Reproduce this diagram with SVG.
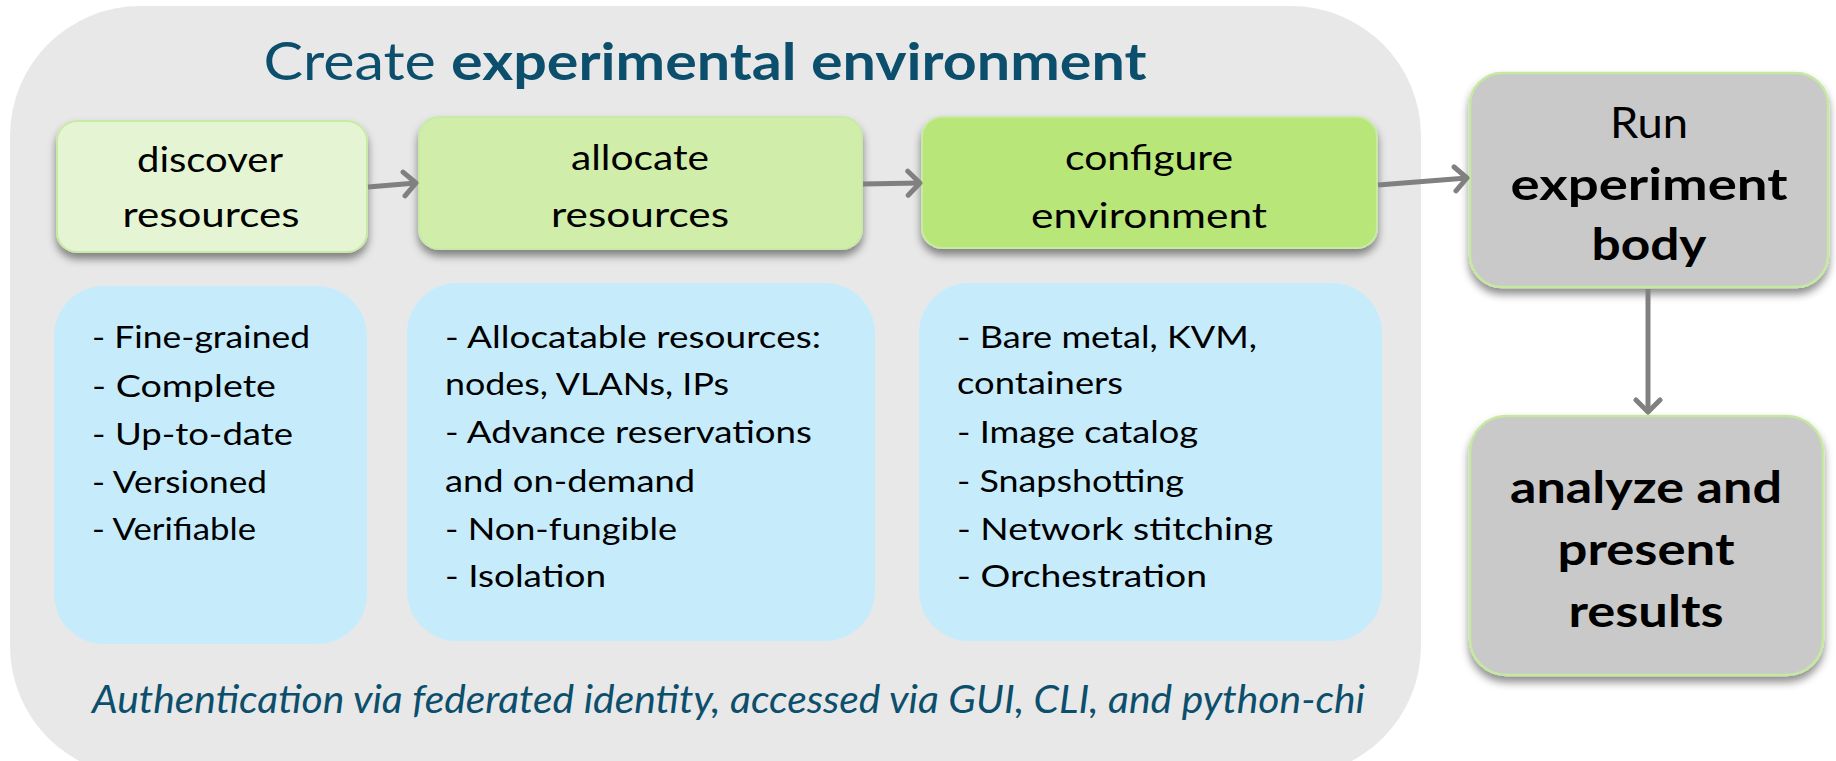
<svg xmlns="http://www.w3.org/2000/svg" width="1836" height="761" viewBox="0 0 1836 761">
<style>
.t{font-family:Lato,"Open Sans","Liberation Sans",sans-serif;fill:#000}
.node{font-size:35px;text-anchor:middle}
.list{font-size:31px}
.big{font-size:43px;text-anchor:middle}
.b{font-weight:700}
.title{font-size:52px;fill:#0c4f6d;text-anchor:middle}
.foot{font-size:38px;fill:#0c4f6d;font-style:italic}
.green{stroke:#c9eaa6;stroke-width:2}
.blue{fill:#c6ecfc}
.run{fill:#c9c9c9;stroke:#c6e9a2;stroke-width:2.5}
.conn{stroke:#808080;stroke-width:5;fill:none}
</style>
<defs>
<filter id="sh" x="-10%" y="-10%" width="120%" height="130%">
<feDropShadow dx="0" dy="6" stdDeviation="4" flood-color="#000" flood-opacity="0.45"/>
</filter>
<marker id="ah" markerUnits="userSpaceOnUse" viewBox="0 0 18 30" refX="15" refY="15" markerWidth="18" markerHeight="30" orient="auto">
<path d="M3,3 L15,15 L3,27" fill="none" stroke="#808080" stroke-width="5" stroke-linecap="round" stroke-linejoin="round"/>
</marker>
</defs>

<g id="container">
<rect x="10" y="6" width="1411" height="770" rx="130" ry="130" fill="#e8e8e8"/>
<text class="t title" x="705" y="80" textLength="883" lengthAdjust="spacingAndGlyphs">Create <tspan class="b">experimental environment</tspan></text>
<text class="t foot" x="92" y="713" textLength="1273" lengthAdjust="spacingAndGlyphs">Authentication via federated identity,  accessed via GUI, CLI, and python-chi</text>
</g>

<g id="discover">
<rect class="green" x="57" y="121" width="310" height="131" rx="20" fill="#e5f5d3" filter="url(#sh)"/>
<text class="t node" x="210" y="172" textLength="146" lengthAdjust="spacingAndGlyphs">discover</text>
<text class="t node" x="211" y="227" textLength="177" lengthAdjust="spacingAndGlyphs">resources</text>
</g>

<g id="allocate">
<rect class="green" x="419" y="117" width="443" height="132" rx="20" fill="#d0eea9" filter="url(#sh)"/>
<text class="t node" x="640" y="170" textLength="138" lengthAdjust="spacingAndGlyphs">allocate</text>
<text class="t node" x="640" y="227" textLength="178" lengthAdjust="spacingAndGlyphs">resources</text>
</g>

<g id="configure">
<rect class="green" x="922" y="117" width="455" height="131" rx="20" fill="#b8e679" filter="url(#sh)"/>
<text class="t node" x="1149" y="170" textLength="168" lengthAdjust="spacingAndGlyphs">configure</text>
<text class="t node" x="1149" y="228" textLength="236" lengthAdjust="spacingAndGlyphs">environment</text>
</g>

<g id="run">
<rect class="run" x="1470" y="73" width="358" height="214" rx="32" filter="url(#sh)"/>
<text class="t big" x="1649" y="138" textLength="78" lengthAdjust="spacingAndGlyphs">Run</text>
<text class="t big b" x="1649" y="200" textLength="277" lengthAdjust="spacingAndGlyphs">experiment</text>
<text class="t big b" x="1649" y="260" textLength="115" lengthAdjust="spacingAndGlyphs">body</text>
</g>

<g id="analyze">
<rect class="run" x="1470" y="416" width="353" height="259" rx="36" filter="url(#sh)"/>
<text class="t big b" x="1646" y="503" textLength="272" lengthAdjust="spacingAndGlyphs">analyze and</text>
<text class="t big b" x="1646" y="565" textLength="177" lengthAdjust="spacingAndGlyphs">present</text>
<text class="t big b" x="1646" y="627" textLength="155" lengthAdjust="spacingAndGlyphs">results</text>
</g>

<g id="discover-details">
<rect class="blue" x="54" y="286" width="313" height="358" rx="50"/>
<text class="t list" x="92" y="348" textLength="218" lengthAdjust="spacingAndGlyphs">- Fine-grained</text>
<text class="t list" x="92" y="397" textLength="184" lengthAdjust="spacingAndGlyphs">- Complete</text>
<text class="t list" x="92" y="445" textLength="201" lengthAdjust="spacingAndGlyphs">- Up-to-date</text>
<text class="t list" x="92" y="493" textLength="175" lengthAdjust="spacingAndGlyphs">- Versioned</text>
<text class="t list" x="92" y="540" textLength="164" lengthAdjust="spacingAndGlyphs">- Verifiable</text>
</g>

<g id="allocate-details">
<rect class="blue" x="407" y="283" width="468" height="358" rx="50"/>
<text class="t list" x="445" y="348" textLength="376" lengthAdjust="spacingAndGlyphs">- Allocatable resources:</text>
<text class="t list" x="445" y="395" textLength="284" lengthAdjust="spacingAndGlyphs">nodes, VLANs, IPs</text>
<text class="t list" x="445" y="443" textLength="367" lengthAdjust="spacingAndGlyphs">- Advance reservations</text>
<text class="t list" x="445" y="492" textLength="250" lengthAdjust="spacingAndGlyphs">and on-demand</text>
<text class="t list" x="445" y="540" textLength="232" lengthAdjust="spacingAndGlyphs">- Non-fungible</text>
<text class="t list" x="445" y="587" textLength="161" lengthAdjust="spacingAndGlyphs">- Isolation</text>
</g>

<g id="configure-details">
<rect class="blue" x="919" y="283" width="463" height="358" rx="50"/>
<text class="t list" x="957" y="348" textLength="300" lengthAdjust="spacingAndGlyphs">- Bare metal, KVM,</text>
<text class="t list" x="957" y="394" textLength="166" lengthAdjust="spacingAndGlyphs">containers</text>
<text class="t list" x="957" y="443" textLength="241" lengthAdjust="spacingAndGlyphs">- Image catalog</text>
<text class="t list" x="957" y="492" textLength="227" lengthAdjust="spacingAndGlyphs">- Snapshotting</text>
<text class="t list" x="957" y="540" textLength="316" lengthAdjust="spacingAndGlyphs">- Network stitching</text>
<text class="t list" x="957" y="587" textLength="250" lengthAdjust="spacingAndGlyphs">- Orchestration</text>
</g>

<g id="connectors">
<line class="conn" x1="368" y1="187" x2="416" y2="183" marker-end="url(#ah)"/>
<line class="conn" x1="863" y1="184" x2="920" y2="183" marker-end="url(#ah)"/>
<line class="conn" x1="1378" y1="185" x2="1467" y2="178" marker-end="url(#ah)"/>
<line class="conn" x1="1648" y1="289" x2="1648" y2="412" marker-end="url(#ah)"/>
</g>
</svg>
